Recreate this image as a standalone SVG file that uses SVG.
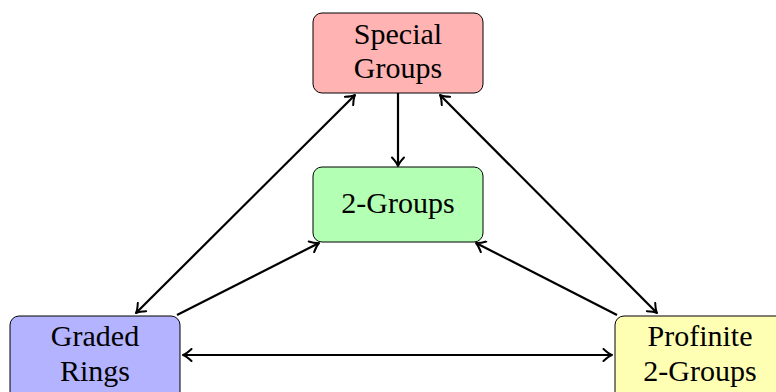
<svg xmlns="http://www.w3.org/2000/svg" width="776" height="392" viewBox="0 0 776 392">
  <style>
    .box { stroke: #000; stroke-width: 1; }
    .lbl { font-family: "Liberation Serif", "DejaVu Serif", serif; font-size: 30px; fill: #000; text-anchor: middle; }
    .edge { fill: none; stroke: #000; stroke-width: 2.2; }
  </style>
  <defs>
    <marker id="tip" viewBox="-10 -7 12 14" markerWidth="12" markerHeight="14" refX="0" refY="0" orient="auto-start-reverse" markerUnits="userSpaceOnUse">
      <path d="M -8.5 -6 Q -3.5 -1.3 0 0 Q -3.5 1.3 -8.5 6" fill="none" stroke="#000" stroke-width="2" stroke-linecap="round" stroke-linejoin="round"/>
    </marker>
  </defs>
  <rect width="776" height="392" fill="#fff"/>

  <g id="special">
    <rect class="box" x="313" y="13" width="170" height="80" rx="9" fill="#ffb3b3"/>
    <text class="lbl" x="398" y="44">Special</text>
    <text class="lbl" x="398" y="78">Groups</text>
  </g>
  <g id="twogroups">
    <rect class="box" x="313" y="167" width="170" height="75" rx="9" fill="#b3ffb3"/>
    <text class="lbl" x="398" y="213">2-Groups</text>
  </g>
  <g id="graded">
    <rect class="box" x="10" y="316" width="170" height="90" rx="9" fill="#b3b3ff"/>
    <text class="lbl" x="95" y="346">Graded</text>
    <text class="lbl" x="95" y="381">Rings</text>
  </g>
  <g id="profinite">
    <rect class="box" x="615" y="316" width="170" height="90" rx="9" fill="#ffffb3"/>
    <text class="lbl" x="700" y="346">Profinite</text>
    <text class="lbl" x="700" y="381">2-Groups</text>
  </g>

  <g id="connectors">
    <line class="edge" x1="398" y1="93" x2="398" y2="166" marker-end="url(#tip)"/>
    <line class="edge" x1="355" y1="95" x2="136" y2="313" marker-start="url(#tip)" marker-end="url(#tip)"/>
    <line class="edge" x1="440" y1="95" x2="657" y2="313" marker-start="url(#tip)" marker-end="url(#tip)"/>
    <line class="edge" x1="177" y1="315" x2="319" y2="243" marker-end="url(#tip)"/>
    <line class="edge" x1="617" y1="315" x2="476" y2="243" marker-end="url(#tip)"/>
    <line class="edge" x1="183" y1="355" x2="612" y2="355" marker-start="url(#tip)" marker-end="url(#tip)"/>
  </g>
</svg>
